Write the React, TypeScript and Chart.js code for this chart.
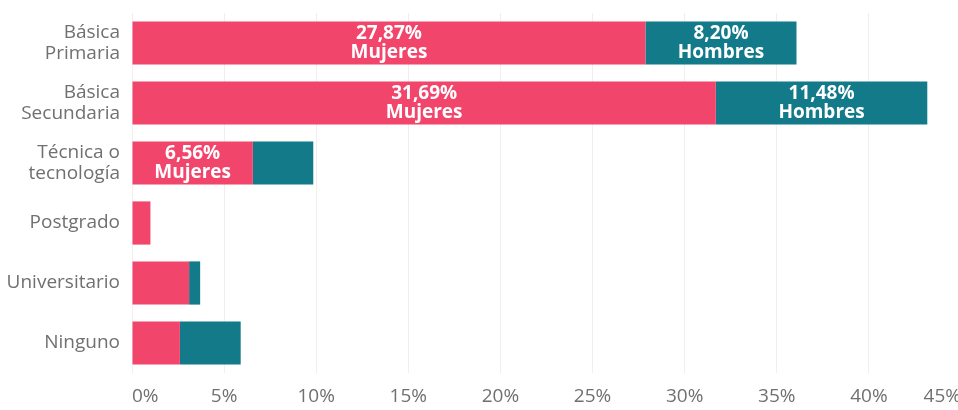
import { useEffect, useRef } from 'react';
import { Chart, registerables } from 'chart.js';

Chart.register(...registerables);

const categories: (string | string[])[] = [
  ['Básica', 'Primaria'],
  ['Básica', 'Secundaria'],
  ['Técnica o', 'tecnología'],
  'Postgrado',
  'Universitario',
  'Ninguno',
];
const seriesNames = ['Mujeres', 'Hombres'];
const mujeres = [27.87, 31.69, 6.56, 1.0, 3.1, 2.6];
const hombres = [8.2, 11.48, 3.28, 0, 0.6, 3.3];
const xMax = 45;
const xStep = 5;

const PINK = '#F2456C';
const TEAL = '#137A8A';
const FONT = '"Open Sans", "DejaVu Sans", sans-serif';

const fmt = (v: number) => v.toFixed(2).replace('.', ',') + '%';

const segLabels = {
  id: 'segLabels',
  afterDatasetsDraw(chart: any) {
    const ctx = chart.ctx;
    ctx.save();
    ctx.font = `bold 19px ${FONT}`;
    ctx.fillStyle = '#ffffff';
    ctx.textAlign = 'center';
    ctx.textBaseline = 'middle';
    chart.data.datasets.forEach((ds: any, i: number) => {
      const meta = chart.getDatasetMeta(i);
      meta.data.forEach((bar: any, j: number) => {
        const v = ds.data[j];
        if (!v) return;
        const { x, base, y } = bar.getProps(['x', 'base', 'y'], true);
        const w = Math.abs(x - base);
        const l1 = fmt(v);
        const l2 = ds.label;
        const tw = Math.max(ctx.measureText(l1).width, ctx.measureText(l2).width);
        if (tw + 6 > w) return;
        const cx = (x + base) / 2;
        ctx.fillText(l1, cx, y - 9.5);
        ctx.fillText(l2, cx, y + 9.5);
      });
    });
    ctx.restore();
  },
};

export default function App() {
  const ref = useRef<HTMLCanvasElement | null>(null);

  useEffect(() => {
    if (!ref.current) return;
    const chart = new Chart(ref.current, {
      type: 'bar',
      data: {
        labels: categories,
        datasets: [
          {
            label: seriesNames[0],
            data: mujeres,
            backgroundColor: PINK,
            categoryPercentage: 0.72,
            barPercentage: 1,
          },
          {
            label: seriesNames[1],
            data: hombres,
            backgroundColor: TEAL,
            categoryPercentage: 0.72,
            barPercentage: 1,
          },
        ],
      },
      options: {
        indexAxis: 'y',
        animation: false,
        responsive: false,
        maintainAspectRatio: false,
        layout: { padding: { top: 13, right: 0, left: 0, bottom: 0 } },
        plugins: {
          legend: { display: false },
          tooltip: { enabled: false },
        },
        scales: {
          x: {
            stacked: true,
            min: 0,
            max: xMax,
            grid: { color: '#efefef', drawTicks: false },
            border: { display: false },
            ticks: {
              stepSize: xStep,
              align: 'inner',
              padding: 12,
              maxRotation: 0,
              autoSkip: false,
              color: '#707070',
              font: { family: FONT, size: 19 },
              callback: (v: any) => v + '%',
            },
            afterFit: (s: any) => {
              s.height = 37;
              s.paddingLeft = 0;
              s.paddingRight = 0;
            },
          },
          y: {
            stacked: true,
            grid: { display: false, drawTicks: false },
            border: { display: false },
            ticks: {
              padding: 12,
              color: '#707070',
              font: { family: FONT, size: 19, lineHeight: 1.1 },
            },
            afterFit: (s: any) => {
              s.width = 132;
              s.paddingTop = 0;
              s.paddingBottom = 0;
            },
          },
        },
      },
      plugins: [segLabels],
    } as any);
    return () => chart.destroy();
  }, []);

  return (
    <div
      style={{
        position: 'fixed',
        left: 0,
        top: 0,
        width: 958,
        height: 410,
        overflow: 'hidden',
        background: '#fff',
      }}
    >
      <canvas ref={ref} width={961} height={410} style={{ display: 'block', width: 961, height: 410 }} />
    </div>
  );
}
